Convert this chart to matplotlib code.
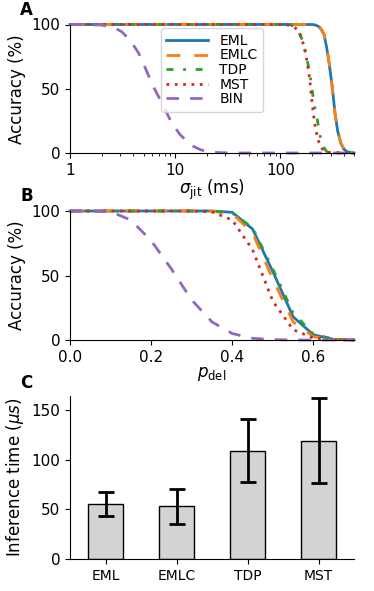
import matplotlib
matplotlib.use("Agg")
import matplotlib.pyplot as plt

# ---------------------------------------------------------------------------
# Data

methods = ["EML", "EMLC", "TDP", "MST", "BIN"]

# Panel A: accuracy (%) vs timing jitter sigma_jit (ms)
sigma_eml = [1, 200, 215, 230, 245, 260, 275, 290, 310, 330, 350, 375, 400, 430, 470, 500]
acc_eml = [100, 100, 99.6, 98.5, 96, 92, 82, 70, 52, 31, 17, 7.5, 3, 1, 0.2, 0]
sigma_emlc = [1, 200, 215, 230, 245, 260, 275, 290, 310, 330, 350, 375, 400, 430, 470, 500]
acc_emlc = [100, 100, 99.8, 99, 96.5, 92.5, 83, 70.5, 52, 31, 17.5, 8, 3.5, 1.5, 1, 1]
sigma_tdp = [1, 100, 125, 135, 144, 152, 161, 167, 178, 190, 200, 208, 216, 224, 237, 250, 262, 275, 300, 500]
acc_tdp = [100, 100, 99.6, 98.5, 97, 93, 88, 84, 74, 62, 49, 39, 32, 26, 14, 7, 3.6, 1, 0, 0]
sigma_mst = [1, 100, 120, 129, 140, 150, 158, 166, 173, 180, 190, 197, 205, 215, 228, 240, 255, 275, 500]
acc_mst = [100, 100, 99.5, 98.7, 97, 94, 90, 84, 78, 70, 57, 44, 31, 19.4, 10, 5.4, 2, 0.5, 0]
sigma_bin = [1, 2, 2.7, 3.1, 3.5, 4, 4.5, 5.2, 6.2, 7.5, 9.3, 11.2, 13, 15, 17.5, 20, 26, 35, 500]
acc_bin = [100, 99.6, 97, 94.4, 90, 84, 77.6, 66, 51.6, 38.7, 23, 14, 9, 5, 2.5, 1, 0.3, 0, 0]

# Panel B: accuracy (%) vs deletion probability p_del
p_del = [0.0, 0.05, 0.1, 0.15, 0.2, 0.25, 0.3, 0.35, 0.4, 0.45, 0.5, 0.55, 0.6, 0.65, 0.7]
del_eml = [100, 100, 100, 100, 100, 100, 100, 100, 99, 86, 53, 18, 4, 0.5, 0]
del_emlc = [100, 100, 100, 100, 100, 100, 100, 99.8, 98, 83, 47, 14, 2.5, 0.5, 0]
del_tdp = [100, 100, 100, 100, 100, 100, 100, 100, 98.5, 87, 55, 21, 4.5, 0.7, 0]
del_mst = [100, 100, 100, 100, 100, 100, 100, 99.3, 93, 70, 30, 8, 1.5, 0.2, 0]
del_bin = [100, 100, 99.5, 93, 77, 55, 31, 14, 5, 1.3, 0.3, 0, 0, 0, 0]

# Panel C: inference time (us), mean and spread
bar_methods = ["EML", "EMLC", "TDP", "MST"]
time_mean = [55, 53, 109, 119]
time_err = [12, 17.5, 32, 43]

# ---------------------------------------------------------------------------
# Styles

colors = ["C0", "C1", "C2", "C3", "C4"]
dashes = [None, (5, 5), (2.5, 3.5, 1, 3.5), (1, 2), (4.5, 4)]

plt.rcParams["font.size"] = 10
plt.rcParams["axes.labelsize"] = 12
plt.rcParams["xtick.labelsize"] = 11
plt.rcParams["ytick.labelsize"] = 11
plt.rcParams["mathtext.default"] = "it"

W, H = 374, 591
fig = plt.figure(figsize=(W / 100, H / 100), dpi=100)


def px_axes(left, right, top, bottom):
    return fig.add_axes([left / W, 1 - bottom / H, (right - left) / W, (bottom - top) / H])


def despine(ax):
    ax.spines["top"].set_visible(False)
    ax.spines["right"].set_visible(False)


def draw_line(ax, x, y, i, label=None):
    kw = dict(color=colors[i], lw=2, label=label, clip_on=False)
    if dashes[i] is not None:
        kw["dashes"] = dashes[i]
    ax.plot(x, y, **kw)


# Panel A
axA = px_axes(70, 354, 24.5, 153)
seriesA = [(sigma_eml, acc_eml), (sigma_emlc, acc_emlc), (sigma_tdp, acc_tdp),
           (sigma_mst, acc_mst), (sigma_bin, acc_bin)]
for i, (x, y) in enumerate(seriesA):
    draw_line(axA, x, y, i, methods[i])
axA.set_xscale("log")
axA.set_xlim(1, 500)
axA.set_ylim(0, 100)
axA.set_yticks([0, 50, 100])
axA.set_xticks([1, 10, 100])
axA.set_xticklabels(["1", "10", "100"])
axA.set_xlabel(r"$\sigma_{\rm jit}$ (ms)", labelpad=0)
axA.set_ylabel("Accuracy (%)")
despine(axA)
axA.legend(loc="upper left", bbox_to_anchor=(0.32, 0.97), borderaxespad=0,
           handlelength=3, labelspacing=0.04, fontsize=10)

# Panel B
axB = px_axes(70, 354, 211, 340)
seriesB = [del_eml, del_emlc, del_tdp, del_mst, del_bin]
for i, y in enumerate(seriesB):
    draw_line(axB, p_del, y, i)
axB.set_xlim(0, 0.7)
axB.set_ylim(0, 100)
axB.set_yticks([0, 50, 100])
axB.set_xticks([0.0, 0.2, 0.4, 0.6])
axB.set_xlabel(r"$p_{\rm del}$", labelpad=0)
axB.set_ylabel("Accuracy (%)")
despine(axB)

# Panel C
axC = px_axes(70, 354, 396, 559)
axC.bar(range(len(bar_methods)), time_mean, width=0.5, color="lightgray",
        edgecolor="black", linewidth=1)
axC.errorbar(range(len(bar_methods)), time_mean, yerr=time_err, fmt="none",
             ecolor="black", elinewidth=2, capsize=6, capthick=2)
axC.set_xlim(-0.5, 3.5)
axC.set_ylim(0, 164)
axC.set_yticks([0, 50, 100, 150])
axC.set_xticks(range(len(bar_methods)))
axC.set_xticklabels(bar_methods, fontsize=10)
axC.set_ylabel(r"Inference time ($\mu s$)")
despine(axC)

# Panel letters
for letter, top in [("A", 1), ("B", 187), ("C", 374.5)]:
    fig.text(20 / W, 1 - top / H, letter, fontsize=12, fontweight="bold",
             ha="left", va="top")

fig.savefig("out.png", dpi=100)
